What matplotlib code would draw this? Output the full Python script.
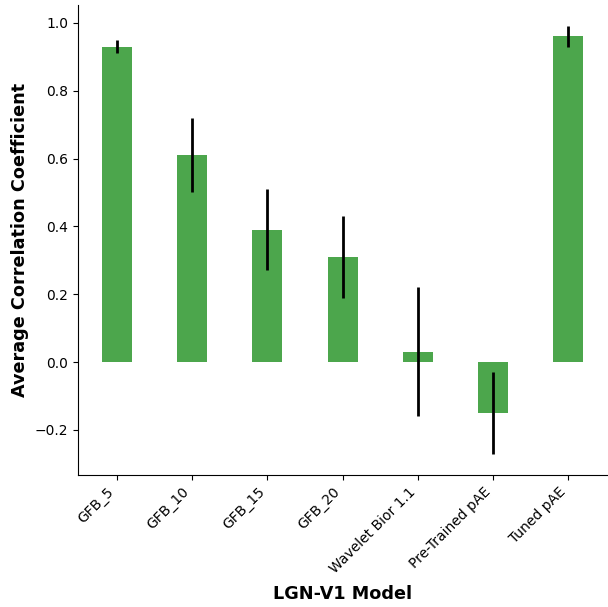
import numpy as np
import matplotlib
matplotlib.use("Agg")
import matplotlib.pyplot as plt

# Correlation per LGN-V1 model (mean and error-bar ends)
models = ["GFB_5", "GFB_10", "GFB_15", "GFB_20", "Wavelet Bior 1.1",
          "Pre-Trained pAE", "Tuned pAE"]
mean_corr = [0.93, 0.61, 0.39, 0.31, 0.03, -0.15, 0.96]
err_corr = [0.02, 0.11, 0.12, 0.12, 0.19, 0.12, 0.03]

fig, ax = plt.subplots(figsize=(6.08, 6.07), dpi=100)
x = np.arange(len(models))
ax.bar(x, mean_corr, width=0.4, color="green", alpha=0.7,
       yerr=err_corr, error_kw=dict(ecolor="black", elinewidth=2, capsize=0))

ax.set_xticks(x)
ax.set_xticklabels(models, rotation=45, ha="right")
ax.set_xlabel("LGN-V1 Model", fontsize=12.7, fontweight="bold", labelpad=7)
ax.set_ylabel("Average Correlation Coefficient", fontsize=12.7, fontweight="bold")
ax.spines["top"].set_visible(False)
ax.spines["right"].set_visible(False)

fig.subplots_adjust(left=0.128, right=0.999, top=0.992, bottom=0.2175)
fig.savefig("out.png", dpi=100)
